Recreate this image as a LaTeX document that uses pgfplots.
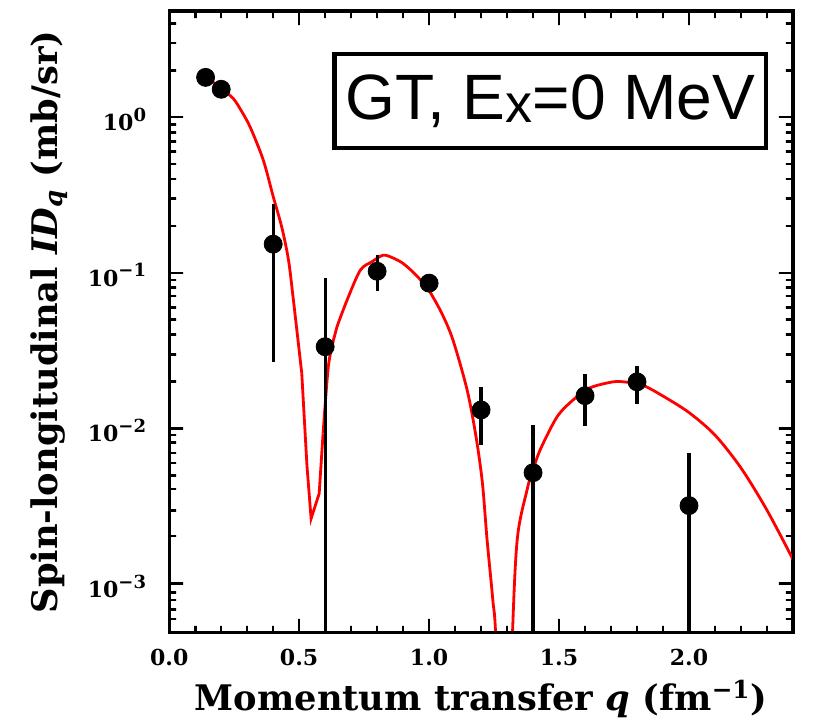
\documentclass[border=0pt]{standalone}
\usepackage{pgfplots}
\pgfplotsset{compat=1.18}
\usepackage{pgfplotstable}
\usepackage{fontspec}
\setmainfont{DejaVu Serif}
\newfontfamily\helv{Liberation Sans}

% theoretical curve, split where it has a kink or leaves the frame
\pgfplotstableread{
q      val
0.15   1.78
0.20   1.52
0.246  1.32
0.28   1.08
0.312  0.86
0.362  0.53
0.40   0.31
0.433  0.197
0.459  0.121
0.478  0.0667
0.51   0.0227
}\theoryA
\pgfplotstableread{
q      val
0.51   0.0227
0.53   0.0058
0.546  0.00265
0.577  0.00384
0.592  0.0093
}\theoryB
\pgfplotstableread{
q      val
0.592  0.0093
0.612  0.0248
0.632  0.0371
0.645  0.0448
0.684  0.0667
0.735  0.104
0.78   0.118
0.823  0.130
0.86   0.125
0.90   0.115
0.95   0.0968
1.00   0.0769
1.05   0.0545
1.092  0.037
1.146  0.0178
1.18   0.0090
1.205  0.0045
1.223  0.00194
1.245  0.0008
1.258  0.0004
1.29   0.00001
}\theoryC
\pgfplotstableread{
q      val
1.29   0.00001
1.319  0.0004
1.339  0.00194
1.377  0.00406
1.396  0.0052
1.427  0.0073
1.492  0.0119
1.554  0.0153
1.619  0.0183
1.708  0.0200
1.76   0.0199
1.823  0.0190
1.90   0.0162
2.00   0.0127
2.10   0.0091
2.20   0.0056
2.30   0.0030
2.40   0.00145
}\theoryD

% measured points with asymmetric errors
\pgfplotstableread{
q     val      ep       em
0.14  1.80     0.08     0.08
0.20  1.51     0.07     0.07
0.40  0.153    0.125    0.126
0.60  0.0336   0.0593   0.03359
0.80  0.1025   0.0275   0.0263
1.00  0.0860   0.007    0.007
1.20  0.0132   0.0053   0.0053
1.40  0.00522  0.0054   0.00521
1.60  0.0163   0.0062   0.0059
1.80  0.0200   0.0053   0.0055
2.00  0.00321  0.0038   0.0032
}\measured

\newcommand{\sx}[1]{\raisebox{0.42em}{\fontsize{9}{9}\selectfont #1}}
% frame size in pt, used for the tick combs
\def\W{311.5}
\def\H{310.5}
\def\xticklist{0.1/3.5,0.2/3.5,0.3/3.5,0.4/3.5,0.5/7,0.6/3.5,0.7/3.5,0.8/3.5,0.9/3.5,1.0/7,
  1.1/3.5,1.2/3.5,1.3/3.5,1.4/3.5,1.5/7,1.6/3.5,1.7/3.5,1.8/3.5,1.9/3.5,2.0/7,2.1/3.5,2.2/3.5,2.3/3.5}
\def\yticklist{6e-4/3.5,7e-4/3.5,8e-4/3.5,9e-4/3.5,1e-3/7,
  2e-3/3.5,3e-3/3.5,4e-3/3.5,5e-3/3.5,6e-3/3.5,7e-3/3.5,8e-3/3.5,9e-3/3.5,1e-2/7,
  2e-2/3.5,3e-2/3.5,4e-2/3.5,5e-2/3.5,6e-2/3.5,7e-2/3.5,8e-2/3.5,9e-2/3.5,1e-1/7,
  0.2/3.5,0.3/3.5,0.4/3.5,0.5/3.5,0.6/3.5,0.7/3.5,0.8/3.5,0.9/3.5,1/7,2/3.5,3/3.5,4/3.5}

\begin{document}
\begin{tikzpicture}
\begin{axis}[
  at={(0,0)}, anchor=south west,
  scale only axis,
  width=\W pt, height=\H pt,
  ymode=log,
  xmin=0, xmax=2.4,
  ymin=4.9e-4, ymax=4.8,
  axis line style={line width=1.7pt},
  xtick={0,0.5,1.0,1.5,2.0},
  xticklabels={0.0,0.5,1.0,1.5,2.0},
  ytick={1e-3,1e-2,1e-1,1},
  yticklabels={10\sx{−3},10\sx{−2},10\sx{−1},10\sx{0}},
  major tick length=0pt, minor tick length=0pt,
  ticklabel style={font=\bfseries\fontsize{11}{12}\selectfont},
  xticklabel style={anchor=base, yshift=-16.5pt},
  yticklabel style={anchor=east, xshift=-8pt, yshift=-1pt},
  xlabel={\bfseries Momentum transfer \textit{q} (fm\textsuperscript{−1})},
  ylabel={\bfseries Spin-longitudinal \textit{ID}\textsubscript{\textit{q}} (mb/sr)},
  label style={font=\bfseries\fontsize{17.6}{19}\selectfont},
  xlabel style={at={(axis description cs:0.5,0)}, anchor=base, yshift=-39pt},
  ylabel style={at={(axis description cs:0,0.5)}, anchor=center, yshift=60pt},
]
\addplot[red, line width=1.4pt, mark=none, smooth, tension=0.5] table[x=q, y=val] {\theoryA};
\addplot[red, line width=1.4pt, mark=none] table[x=q, y=val] {\theoryB};
\addplot[red, line width=1.4pt, mark=none, smooth, tension=0.5] table[x=q, y=val] {\theoryC};
\addplot[red, line width=1.4pt, mark=none, smooth, tension=0.5] table[x=q, y=val] {\theoryD};
\addplot[only marks, mark=*, mark size=4.5pt, black,
  error bars/.cd, y dir=both, y explicit,
  error mark=none, error bar style={line width=1.6pt, black}]
  table[x=q, y=val, y error plus=ep, y error minus=em] {\measured};
\node[draw, line width=2.2pt, minimum width=215.5pt, minimum height=47pt,
      inner sep=0pt, fill=white, font=\helv\fontsize{32}{32}\selectfont]
  at (rel axis cs:0.611,0.855)
  {GT, E\raisebox{-1.5pt}{\fontsize{27}{27}\selectfont x}=0 MeV};
\end{axis}
% inward tick marks, each side drawn as one comb-shaped path along the frame
\draw[black, line width=1.3pt, line join=miter]
  (0pt,0pt) foreach \q/\len in \xticklist {
    -- ({\W*\q/2.4*1pt},0pt) -- ({\W*\q/2.4*1pt},{\len*1pt}) -- ({\W*\q/2.4*1pt},0pt)
  } -- (\W pt,0pt);
\draw[black, line width=1.3pt, line join=miter]
  (0pt,\H pt) foreach \q/\len in \xticklist {
    -- ({\W*\q/2.4*1pt},\H pt) -- ({\W*\q/2.4*1pt},{(\H-\len)*1pt}) -- ({\W*\q/2.4*1pt},\H pt)
  } -- (\W pt,\H pt);
\draw[black, line width=1.3pt, line join=miter]
  (0pt,0pt) foreach \v/\len in \yticklist {
    -- (0pt,{\H*(log10(\v)+3.30980)/3.99103*1pt})
    -- ({\len*1pt},{\H*(log10(\v)+3.30980)/3.99103*1pt})
    -- (0pt,{\H*(log10(\v)+3.30980)/3.99103*1pt})
  } -- (0pt,\H pt);
\draw[black, line width=1.3pt, line join=miter]
  (\W pt,0pt) foreach \v/\len in \yticklist {
    -- (\W pt,{\H*(log10(\v)+3.30980)/3.99103*1pt})
    -- ({(\W-\len)*1pt},{\H*(log10(\v)+3.30980)/3.99103*1pt})
    -- (\W pt,{\H*(log10(\v)+3.30980)/3.99103*1pt})
  } -- (\W pt,\H pt);
\useasboundingbox (-84.5pt,-40.5pt) rectangle (324.5pt,316pt);
\end{tikzpicture}
\end{document}
